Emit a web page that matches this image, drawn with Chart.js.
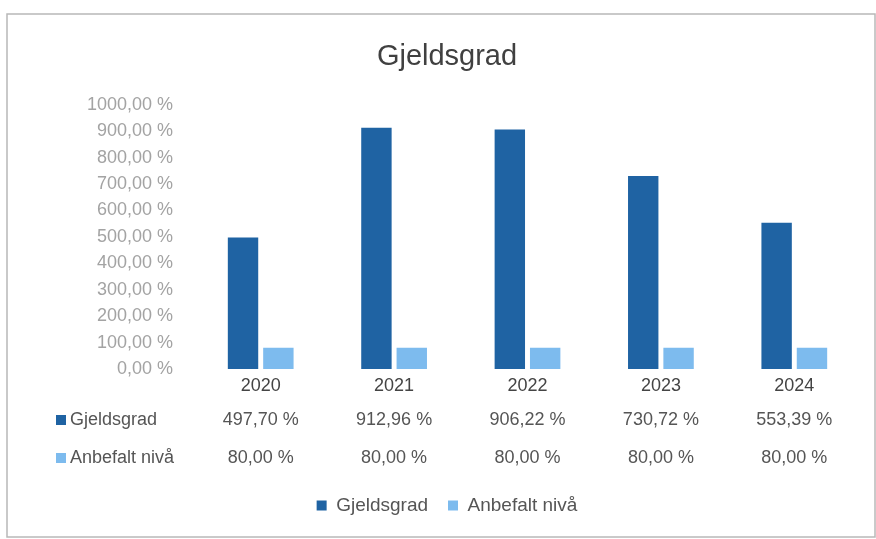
<!DOCTYPE html>
<html>
<head>
<meta charset="utf-8">
<script src="https://cdn.jsdelivr.net/npm/chart.js@4"></script>
<style>
  html, body { margin: 0; padding: 0; background: #fff; }
  #wrap { position: relative; width: 876px; height: 539px; }
</style>
</head>
<body>
<div id="wrap"><canvas id="chart" width="876" height="539"></canvas></div>
<script>
// Gjeldsgrad per år, med anbefalt nivå
const years = ['2020', '2021', '2022', '2023', '2024'];
const gjeldsgrad = [497.70, 912.96, 906.22, 730.72, 553.39];
const anbefalt = [80.00, 80.00, 80.00, 80.00, 80.00];
const yTicks = [0, 100, 200, 300, 400, 500, 600, 700, 800, 900, 1000];

const FONT = "'Liberation Sans', Arial, sans-serif";
const darkBlue = '#1f63a3';
const lightBlue = '#7dbbee';

const fmt = v => v.toFixed(2).replace('.', ',') + ' %';

// white background + thin frame like the scanned Excel box
const framePlugin = {
    id: 'frame',
    beforeDraw(chart) {
        const c = chart.ctx;
        c.save();
        c.fillStyle = '#fff';
        c.fillRect(0, 0, chart.width, chart.height);
        c.strokeStyle = '#b8b8b8';
        c.lineWidth = 1.5;
        c.strokeRect(7, 14, 868, 523);
        c.restore();
    }
};

// data table under the x axis (one row per series)
const tablePlugin = {
    id: 'dataTable',
    afterDraw(chart) {
        const c = chart.ctx;
        const x = chart.scales.x;
        const base = chart.chartArea.bottom;
        const rows = [51, 89];
        c.save();
        c.font = '18px ' + FONT;
        c.textBaseline = 'middle';
        chart.data.datasets.forEach((ds, i) => {
            const y = base + rows[i];
            c.fillStyle = ds.backgroundColor;
            c.fillRect(56, y - 5, 10, 10);
            c.fillStyle = '#555';
            c.textAlign = 'left';
            c.fillText(ds.label, 70, y);
            c.textAlign = 'center';
            ds.data.forEach((v, j) => c.fillText(fmt(v), x.getPixelForValue(j), y));
        });
        c.restore();
    }
};

new Chart(document.getElementById('chart'), {
    type: 'bar',
    data: {
        labels: years,
        datasets: [
            { label: 'Gjeldsgrad', data: gjeldsgrad, backgroundColor: darkBlue },
            { label: 'Anbefalt nivå', data: anbefalt, backgroundColor: lightBlue }
        ]
    },
    options: {
        responsive: false,
        animation: false,
        layout: { padding: { left: 33, right: 15, top: 0, bottom: 14 } },
        datasets: { bar: { categoryPercentage: 0.53, barPercentage: 0.86 } },
        scales: {
            x: {
                grid: { display: false, drawTicks: false },
                border: { display: false },
                ticks: { color: '#444', font: { family: FONT, size: 18 }, padding: 6 },
                afterFit: s => { s.height = 107; }
            },
            y: {
                min: 0,
                max: 1000,
                grid: { display: false, drawTicks: false },
                border: { display: false },
                afterBuildTicks: s => { s.ticks = yTicks.map(v => ({ value: v })); },
                afterFit: s => { s.width = 161; },
                ticks: {
                    color: '#a3a3a3',
                    font: { family: FONT, size: 18 },
                    padding: 21,
                    callback: v => fmt(v)
                }
            }
        },
        plugins: {
            title: {
                display: true,
                text: 'Gjeldsgrad',
                color: '#404040',
                font: { family: FONT, size: 29, weight: 'normal' },
                padding: { top: 40, bottom: 30 }
            },
            legend: {
                position: 'bottom',
                labels: {
                    color: '#555',
                    font: { family: FONT, size: 19 },
                    boxWidth: 10,
                    boxHeight: 10,
                    padding: 20
                }
            },
            tooltip: { enabled: false }
        }
    },
    plugins: [framePlugin, tablePlugin]
});
</script>
</body>
</html>
